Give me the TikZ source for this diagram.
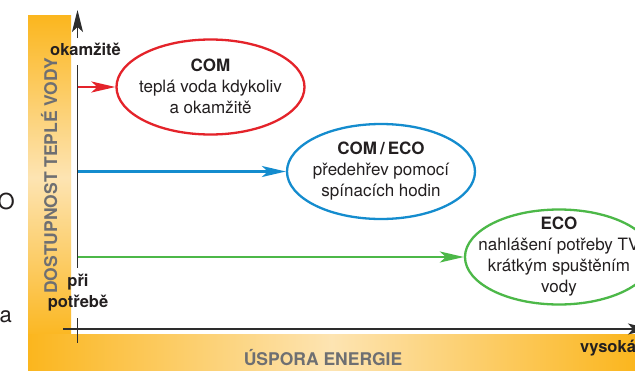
\documentclass[tikz,border=0pt]{standalone}
\usepackage{fontspec}
\setmainfont{TeX Gyre Heros}
\usetikzlibrary{shapes.geometric,arrows.meta}
\definecolor{orng}{RGB}{251,182,30}
\definecolor{pale}{RGB}{253,228,178}
\definecolor{axgray}{RGB}{45,45,45}
\definecolor{ttlgray}{RGB}{110,111,114}
\definecolor{txt}{RGB}{35,31,32}
\definecolor{cred}{RGB}{228,35,42}
\definecolor{cblue}{RGB}{20,140,206}
\definecolor{cgreen}{RGB}{76,184,72}
\begin{document}
\begin{tikzpicture}[x=1pt,y=-1pt,
  ell/.style={ellipse, minimum width=188pt, minimum height=95pt, inner sep=0pt, line width=2.3pt, fill=white},
  etext/.style={align=center, text=txt, font=\fontsize{17}{21}\selectfont, inner sep=0pt},
  lab/.style={text=txt, font=\bfseries\fontsize{16.5}{21}\selectfont, inner sep=0pt, anchor=base},
  ttl/.style={text=ttlgray, font=\bfseries\fontsize{17.5}{20}\selectfont, inner sep=0pt, anchor=base},
  axisline/.style={draw=axgray, line width=1.2pt},
  axtip/.style={-{Stealth[length=22pt,width=11pt,inset=5pt]}},
  conn/.style={line width=2.4pt, -{Stealth[length=24pt,width=11pt,inset=6pt]}},
  frag/.style={text=txt, font=\fontsize{22}{22}\selectfont, inner sep=0pt, anchor=base east},
]
\useasboundingbox (0,0) rectangle (635,370);
\fill[white] (0,0) rectangle (635,370);
% bars
\shade[top color=orng, bottom color=orng, middle color=pale] (28,15) rectangle (71,340);
\shade[left color=orng, right color=orng, middle color=pale] (28,334) rectangle (635,370);
% axis titles
\node[ttl, rotate=90] (ytitle) at (57,176) {DOSTUPNOST TEPLÉ VODY};
\node[ttl] (xtitle) at (323,365) {ÚSPORA ENERGIE};
% axes
\coordinate (ytip) at (77.5,10);
\coordinate (ya) at (77.5,38);
\coordinate (yb) at (77.5,65);
\coordinate (yc) at (77.5,268);
\coordinate (yd) at (77.5,318);
\coordinate (ye) at (77.5,343);
\coordinate (xa) at (63,329);
\coordinate (xtip) at (650,329);
\draw[axisline, axtip] (ya) -- (ytip);
\draw[axisline] (yb) -- (yc);
\draw[axisline] (yd) -- (ye);
\draw[axisline, axtip] (xa) -- (xtip);
% axis labels
\node[lab] (okam) at (85.5,55) {okamžitě};
\node[lab, align=center, anchor=center] (pri) at (78,293) {při\\potřebě};
\node[lab, anchor=base west] (vys) at (580,352) {vysoká};
% ellipses
\node[ell, draw=cred] (com) at (210.5,87) {};
\node[etext] (comt) at (210.5,86) {\textbf{COM}\\teplá voda kdykoliv\\a okamžitě};
\node[ell, draw=cblue] (comeco) at (381,171.5) {};
\node[etext] (comecot) at (381,171) {\textbf{COM\kern3pt/\kern3pt ECO}\\předehřev pomocí\\spínacích hodin};
\node[ell, draw=cgreen] (eco) at (559,257) {};
\node[etext] (ecot) at (559,257) {\textbf{ECO}\\nahlášení potřeby TV\\krátkým spuštěním\\vody};
% connectors
\coordinate (ar) at (77.5,87);
\coordinate (ab) at (77.5,171.5);
\coordinate (ag) at (77.5,257);
\draw[conn, cred] (ar) -- (com.west);
\draw[conn, cblue] (ab) -- (comeco.west);
\draw[conn, cgreen] (ag) -- (eco.west);
% fragments at left edge
\node[frag] (fo) at (15,209) {O};
\node[frag] (fa) at (12,322) {a};
\end{tikzpicture}
\end{document}
